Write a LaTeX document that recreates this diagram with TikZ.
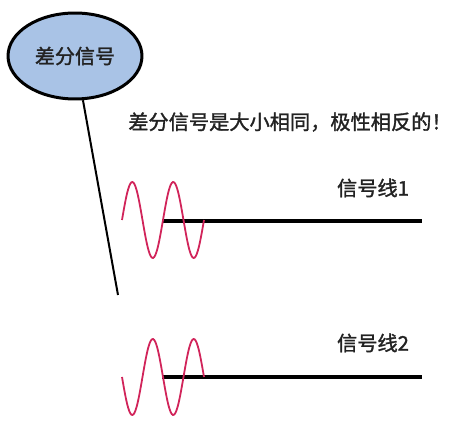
\documentclass[tikz,border=0pt]{standalone}
\usepackage{fontspec}
\newfontfamily\cjk{Noto Sans CJK SC}[FakeBold=1.5]
\usetikzlibrary{shapes.geometric, positioning}
\definecolor{bubblefill}{HTML}{A9C3E6}
\definecolor{wavered}{HTML}{D1245A}
\definecolor{txtgray}{HTML}{222222}
\tikzset{
    bubble/.style={ellipse, draw, line width=0.06cm, fill=bubblefill, minimum width=2.68cm, minimum height=1.72cm, inner sep=0pt, font=\cjk\fontsize{11.4}{13}\selectfont, text=txtgray},
    note/.style={font=\cjk\fontsize{11.5}{13}\selectfont, text=txtgray, inner sep=0pt, anchor=west},
    lbl/.style={font=\cjk\fontsize{11.5}{13}\selectfont, text=txtgray, inner sep=0pt},
    sigline/.style={line width=0.08cm, black},
    wave/.style={line width=0.036cm, wavered}
}

\begin{document}
\begin{tikzpicture}[x=0.02cm, y=-0.02cm]
            \useasboundingbox (0,0) rectangle (450,428);
            \node[bubble] (diff) at (75,56) {差分信号};
            \coordinate (tip) at (118,295);
            \draw[line width=0.04cm] (diff) -- (tip);
            \node[note] (desc) at (128,122) {差分信号是大小相同，极性相反的！};
            % line 1
            \coordinate (a1) at (162,221);
            \coordinate (b1) at (422,221);
            \draw[sigline] (a1) -- (b1);
            \draw[wave] plot[domain=0:2, samples=80, smooth] ({122+41*\x}, {220-38*sin(\x*360)});
            \node[lbl] (name1) at (373,188) {信号线1};
            % line 2
            \coordinate (a2) at (162,377);
            \coordinate (b2) at (422,377);
            \draw[sigline] (a2) -- (b2);
            \draw[wave] plot[domain=0:2, samples=80, smooth] ({122+41*\x}, {377+38*sin(\x*360)});
            \node[lbl] (name2) at (373,343) {信号线2};
        \end{tikzpicture}
\end{document}
